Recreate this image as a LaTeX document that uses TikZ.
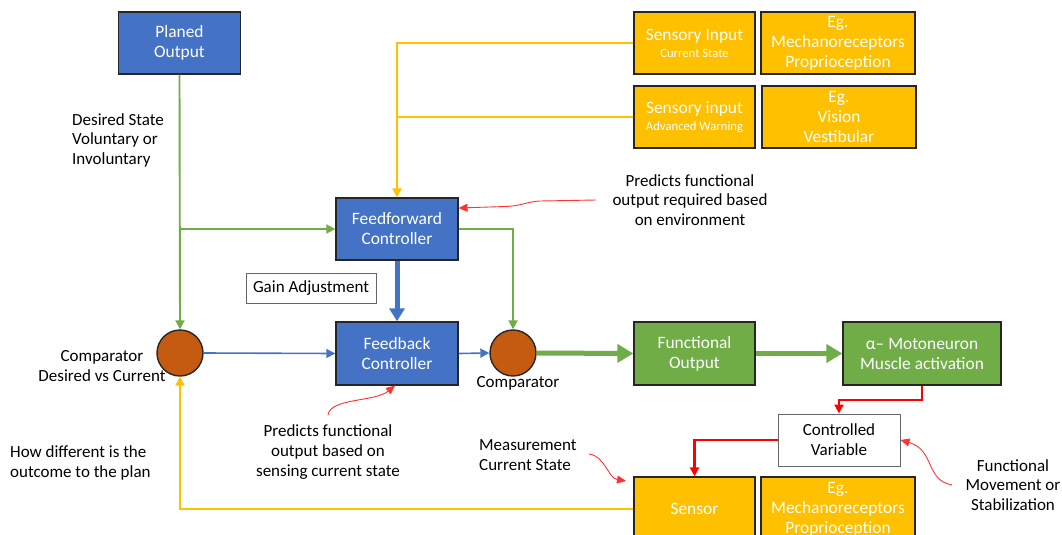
\documentclass[tikz,border=0pt]{standalone}
\usepackage{fontspec}
\setmainfont{Carlito}
\usetikzlibrary{arrows.meta}
\definecolor{bblue}{HTML}{4472C4}
\definecolor{ogold}{HTML}{FFC000}
\definecolor{ggreen}{HTML}{70AD47}
\definecolor{cbrown}{HTML}{C55A11}
\definecolor{rred}{HTML}{FF0000}
\begin{document}
\begin{tikzpicture}[x=1pt,y=-1pt,
  txt/.style={font=\fontsize{17}{19.8}\selectfont, align=center, inner sep=0pt},
  box/.style={txt, font=\fontsize{17.4}{20}\selectfont, draw=black!85, line width=1.4pt, text=white, minimum height=62pt},
  bluebox/.style={box, fill=bblue},
  goldbox/.style={box, fill=ogold},
  greenbox/.style={box, fill=ggreen},
  whitebox/.style={txt, draw=black!60, line width=1pt, fill=white, text=black},
  comp/.style={circle, draw=black!85, line width=1.4pt, fill=cbrown, minimum size=46pt, inner sep=0pt},
  gline/.style={draw=ggreen, line width=1.9pt, -{Triangle[length=9pt,width=9pt]}},
  bline/.style={draw=bblue, line width=1.6pt, -{Triangle[length=9pt,width=9pt]}},
  yline/.style={draw=ogold, line width=2.8pt, -{Triangle[length=9pt,width=9pt]}},
  rline/.style={draw=rred, line width=2.4pt, -{Triangle[length=9pt,width=9pt]}},
  rcurve/.style={draw=rred!80, line width=0.9pt, -{Triangle[length=9pt,width=8pt]}},
  thickb/.style={draw=bblue, line width=5pt, -{Triangle[length=13pt,width=15pt]}},
  thickg/.style={draw=ggreen, line width=5pt, -{Triangle[length=16pt,width=18pt]}},
]
\useasboundingbox (0,0) rectangle (1062,535);
\clip (0,0) rectangle (1062,535);

% boxes
\node[bluebox, minimum width=122pt] (po) at (179.5,43) {Planed\\Output};
\node[goldbox, minimum width=121pt] (si1) at (694.5,43) {Sensory Input\\[-3pt]{\fontsize{12.7}{14}\selectfont Current State}};
\node[goldbox, minimum width=154pt] (eg1) at (838,43) {Eg.\\Mechanoreceptors\\Proprioception};
\node[goldbox, minimum width=121pt] (si2) at (694.5,117) {Sensory input\\[-3pt]{\fontsize{12.7}{14}\selectfont Advanced Warning}};
\node[goldbox, minimum width=154pt] (eg2) at (839,117) {Eg.\\Vision\\Vestibular};
\node[bluebox, minimum width=122pt] (ff) at (397,229) {Feedforward\\Controller};
\node[whitebox, minimum width=130pt, minimum height=30pt] (gain) at (311,288) {Gain Adjustment};
\node[bluebox, minimum width=122pt, minimum height=63pt] (fb) at (397,353.5) {Feedback\\Controller};
\node[comp] (c1) at (180,353) {};
\node[comp] (c2) at (513,353) {};
\node[greenbox, minimum width=121pt, minimum height=63pt] (fo) at (694.5,353.5) {Functional\\Output};
\node[greenbox, minimum width=158pt, minimum height=63pt] (mot) at (922,353.5) {α– Motoneuron\\Muscle activation};
\node[whitebox, minimum width=122pt, minimum height=52pt] (cv) at (839,440) {Controlled\\Variable};
\node[goldbox, minimum width=121pt, minimum height=64pt] (sen) at (694.5,509) {Sensor};
\node[goldbox, minimum width=154pt, minimum height=64pt] (eg3) at (838,509) {Eg.\\Mechanoreceptors\\Proprioception};

% labels
\node[txt, align=left, anchor=north west] (ds) at (72,113) {Desired State\\Voluntary or\\Involuntary};
\node[txt] (cl1) at (102,366) {Comparator\\Desired vs Current};
\node[txt, align=left, anchor=west] (hd) at (10,463) {How different is the\\outcome to the plan};
\node[txt] (pf1) at (690,200) {Predicts functional\\output required based\\on environment};
\node[txt] (pf2) at (328,452) {Predicts functional\\output based on\\sensing current state};
\node[txt] (cl2) at (518,383) {Comparator};
\node[txt, align=left, anchor=west] (ms) at (479,455) {Measurement\\Current State};
\node[txt] (fm) at (1013,485) {Functional\\Movement or\\Stabilization};

% connectors
\draw[gline] (po.south) -- (c1.north);
\coordinate (gj) at (po.south |- ff.west);
\draw[gline] (gj) -- (ff.west);
\draw[yline] (si1.west) -| (ff.north);
\coordinate (yj) at (si2.west -| ff.north);
\draw[yline, -] (si2.west) -- (yj);
\draw[thickb] (ff.south) -- (fb.north);
\draw[gline] (ff.east) -| (c2.north);
\draw[bline] (c1.east) -- (fb.west);
\draw[bline] (fb.east) -- (c2.west);
\draw[thickg] (c2.east) -- (fo.west);
\draw[thickg] (fo.east) -- (mot.west);
\draw[rline] (mot.south) -- ++(0,14) -| (cv.north);
\draw[rline] (cv.west) -| (sen.north);
\draw[yline] (sen.west) -| (c1.south);

% red annotation curves
\coordinate (r1) at (596,200);
\coordinate (r1e) at (458.5,208);
\draw[rcurve] (r1) -- (540,201) .. controls (525,202) and (522,206) .. (505,206.5) -- (r1e);
\coordinate (r2) at (328,415);
\coordinate (r2e) at (395,385.5);
\draw[rcurve] (r2) .. controls (330,398) and (375,402) .. (r2e);
\coordinate (r3) at (589,454);
\coordinate (r3e) at (626,481);
\draw[rcurve] (r3) .. controls (605,456) and (608,478) .. (r3e);
\coordinate (r4) at (952,485);
\coordinate (r4e) at (900.5,440);
\draw[rcurve] (r4) .. controls (925,480) and (935,450) .. (r4e);
\end{tikzpicture}
\end{document}
